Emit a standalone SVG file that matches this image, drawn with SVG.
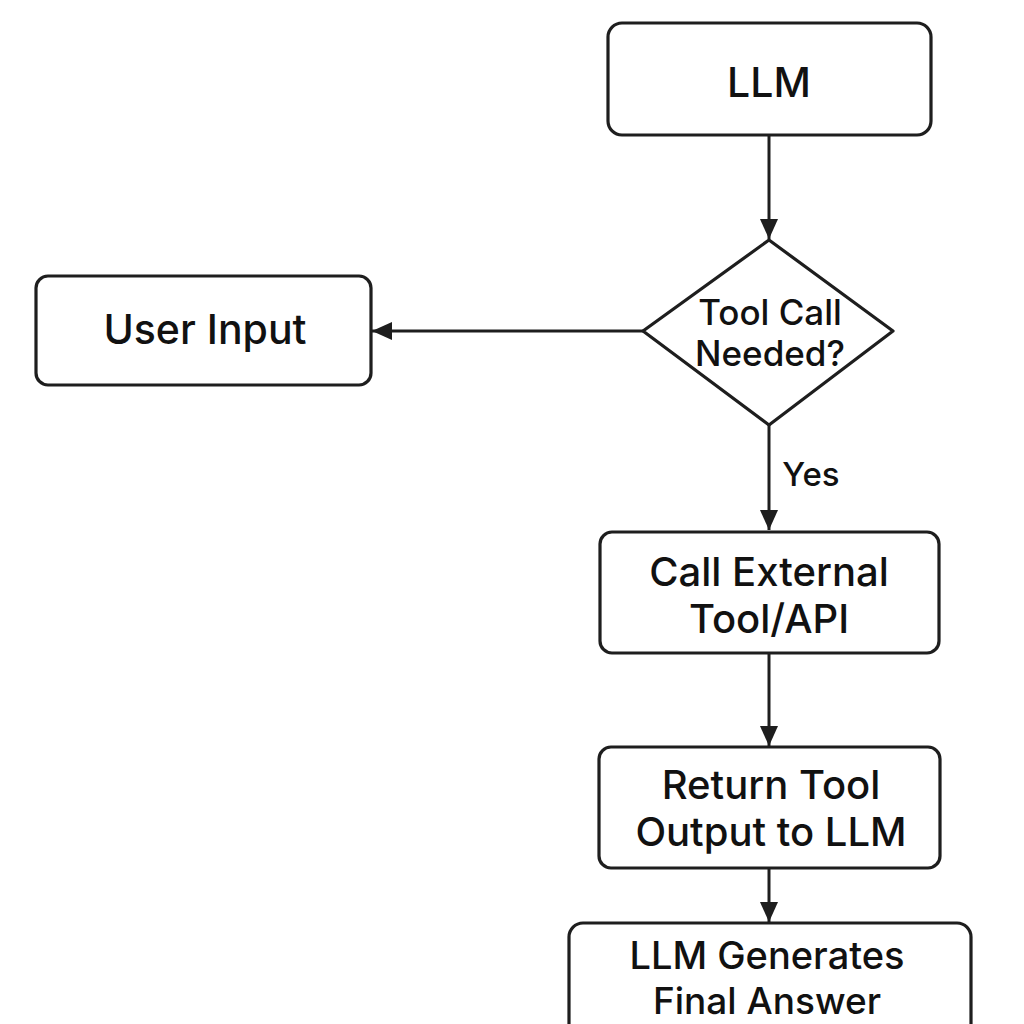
<svg xmlns="http://www.w3.org/2000/svg" width="1024" height="1024" viewBox="0 0 1024 1024">
<defs>
<marker id="arr" markerWidth="20" markerHeight="18" refX="20" refY="9" orient="auto" markerUnits="userSpaceOnUse" viewBox="0 0 20 18">
<path d="M0,0 L20,9 L0,18 Z" fill="#1e1e1e"/>
</marker>
<style>
.box{fill:#fff;stroke:#1e1e1e;stroke-width:3.2;stroke-linejoin:round}
.t{font-family:Inter,"Liberation Sans",sans-serif;font-weight:500;fill:#111;text-anchor:middle}
.c{stroke:#1e1e1e;stroke-width:3;fill:none}
</style>
</defs>
<rect width="1024" height="1024" fill="#fff"/>
<g id="connectors">
<line class="c" x1="769" y1="136" x2="769" y2="239" marker-end="url(#arr)"/>
<line class="c" x1="643" y1="331" x2="372" y2="331" marker-end="url(#arr)"/>
<line class="c" x1="769" y1="425" x2="769" y2="530" marker-end="url(#arr)"/>
<line class="c" x1="769" y1="653" x2="769" y2="746" marker-end="url(#arr)"/>
<line class="c" x1="769" y1="869" x2="769" y2="922" marker-end="url(#arr)"/>
<text class="t" x="811" y="486" font-size="33">Yes</text>
</g>
<g id="llm">
<rect class="box" x="608" y="23" width="323" height="112" rx="14"/>
<text class="t" x="769" y="97" font-size="41">LLM</text>
</g>
<g id="decision">
<path class="box" d="M769,240 L893,331 L769,425 L643,331 Z"/>
<text class="t" x="770" y="325" font-size="35">Tool Call</text>
<text class="t" x="770" y="366" font-size="35">Needed?</text>
</g>
<g id="user-input">
<rect class="box" x="36" y="276" width="335" height="109" rx="12"/>
<text class="t" x="205" y="344" font-size="41">User Input</text>
</g>
<g id="call-tool">
<rect class="box" x="600" y="532" width="339" height="121" rx="12"/>
<text class="t" x="769" y="586" font-size="40">Call External</text>
<text class="t" x="769" y="633" font-size="40">Tool/API</text>
</g>
<g id="return-output">
<rect class="box" x="599" y="747" width="341" height="121" rx="12"/>
<text class="t" x="771" y="799" font-size="40">Return Tool</text>
<text class="t" x="771" y="846" font-size="40">Output to LLM</text>
</g>
<g id="final-answer">
<rect class="box" x="569" y="923" width="402" height="130" rx="14"/>
<text class="t" x="767" y="969" font-size="38">LLM Generates</text>
<text class="t" x="767" y="1014" font-size="37">Final Answer</text>
</g>
</svg>
